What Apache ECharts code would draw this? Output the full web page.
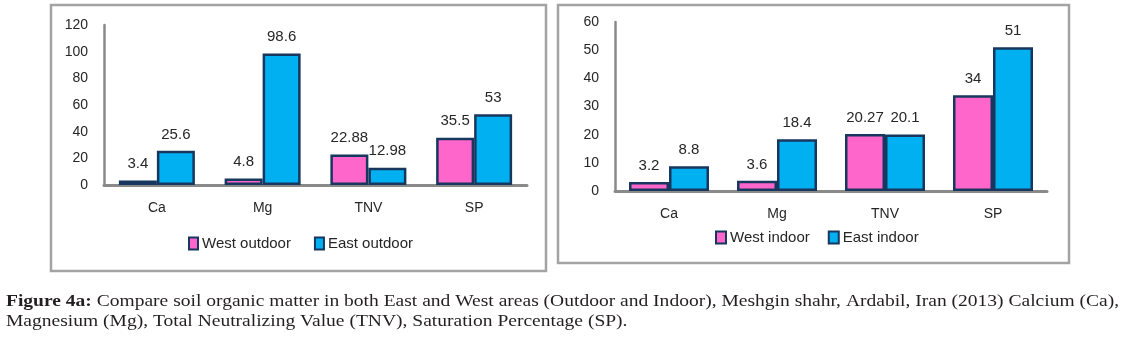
<!DOCTYPE html>
<html>
<head>
<meta charset="utf-8">
<script src="https://cdn.jsdelivr.net/npm/echarts@6/dist/echarts.min.js"></script>
<style>
html, body { margin: 0; padding: 0; background: #fff; }
#chart { width: 1124px; height: 345px; }
</style>
</head>
<body>
<div id="chart"></div>
<script>
// data
const categories = ['Ca', 'Mg', 'TNV', 'SP'];
const westOutdoor = [3.4, 4.8, 22.88, 35.5];
const eastOutdoor = [25.6, 98.6, 12.98, 53];
const westIndoor = [3.2, 3.6, 20.27, 34];
const eastIndoor = [8.8, 18.4, 20.1, 51];
const outdoorMax = 120, outdoorStep = 20;
const indoorMax = 60, indoorStep = 10;
const captionLine1 = 'Compare soil organic matter in both East and West areas (Outdoor and Indoor), Meshgin shahr, Ardabil, Iran (2013) Calcium (Ca),';
const captionLine2 = 'Magnesium (Mg), Total Neutralizing Value (TNV), Saturation Percentage (SP).';

const PINK = '#FF66CC';
const BLUE = '#00B0F0';
const EDGE = '#17375E';
const AXIS = '#8a8a8a';
const TXT = '#262626';
const FONT = '"Liberation Sans", Arial, sans-serif';
const SERIF = '"Liberation Serif", "Times New Roman", serif';

function barSeries(name, data, idx, width) {
  return {
    name: name,
    type: 'bar',
    xAxisIndex: idx,
    yAxisIndex: idx,
    data: data,
    barWidth: width,
    barGap: '0%',
    itemStyle: {
      color: name.indexOf('West') === 0 ? PINK : BLUE,
      borderColor: EDGE,
      borderWidth: 2.5
    },
    label: {
      show: true,
      position: 'top',
      distance: 9,
      color: TXT,
      fontSize: 15,
      fontFamily: FONT
    }
  };
}

function xAxisCfg(idx) {
  return {
    type: 'category',
    gridIndex: idx,
    data: categories,
    axisLine: { lineStyle: { color: AXIS, width: 3 } },
    axisTick: { show: false },
    axisLabel: { color: TXT, fontSize: 14, fontFamily: FONT, margin: 16 }
  };
}

function yAxisCfg(idx, max, step) {
  return {
    type: 'value',
    gridIndex: idx,
    min: 0,
    max: max,
    interval: step,
    axisLine: { show: true, lineStyle: { color: AXIS, width: 2.5 } },
    axisTick: { show: false },
    splitLine: { show: false },
    axisLabel: { color: TXT, fontSize: 14, fontFamily: FONT, margin: 16 }
  };
}

const chart = echarts.init(document.getElementById('chart'), null, { renderer: 'canvas' });

const option = {
  animation: false,
  backgroundColor: '#fff',
  grid: [
    { left: 104, top: 25, width: 423, height: 160 },
    { left: 615, top: 22, width: 432, height: 169 }
  ],
  xAxis: [xAxisCfg(0), xAxisCfg(1)],
  yAxis: [yAxisCfg(0, outdoorMax, outdoorStep), yAxisCfg(1, indoorMax, indoorStep)],
  legend: [
    {
      data: ['West outdoor', 'East outdoor'],
      left: 188, top: 236, padding: 0,
      icon: 'rect', itemWidth: 9, itemHeight: 12, itemGap: 23,
      textStyle: { color: TXT, fontSize: 15, fontFamily: FONT, padding: [0, 0, 0, -1] },
      selectedMode: false
    },
    {
      data: ['West indoor', 'East indoor'],
      left: 715, top: 230, padding: 0,
      icon: 'rect', itemWidth: 10, itemHeight: 12, itemGap: 18,
      textStyle: { color: TXT, fontSize: 15, fontFamily: FONT, padding: [0, 0, 0, -1] },
      selectedMode: false
    }
  ],
  series: [
    barSeries('West outdoor', westOutdoor, 0, 38),
    barSeries('East outdoor', eastOutdoor, 0, 38),
    barSeries('West indoor', westIndoor, 1, 40),
    barSeries('East indoor', eastIndoor, 1, 40)
  ],
  graphic: [
    {
      type: 'rect',
      shape: { x: 51, y: 5, width: 495, height: 266 },
      style: { fill: 'none', stroke: '#a3a3a3', lineWidth: 2.5 },
      silent: true
    },
    {
      type: 'rect',
      shape: { x: 558, y: 5, width: 511, height: 258 },
      style: { fill: 'none', stroke: '#a3a3a3', lineWidth: 2.5 },
      silent: true
    },
    {
      type: 'text',
      x: 6, y: 294,
      scaleX: 1.22,
      style: {
        text: '{b|Figure 4a:} ' + captionLine1,
        fill: '#231f20',
        fontSize: 16,
        fontFamily: SERIF,
        verticalAlign: 'top',
        rich: { b: { fontWeight: 'bold', fontSize: 16, fontFamily: SERIF } }
      }
    },
    {
      type: 'text',
      x: 6, y: 314,
      scaleX: 1.22,
      style: {
        text: captionLine2,
        fill: '#231f20',
        fontSize: 16,
        fontFamily: SERIF,
        verticalAlign: 'top'
      }
    }
  ]
};

chart.setOption(option);
</script>
</body>
</html>
